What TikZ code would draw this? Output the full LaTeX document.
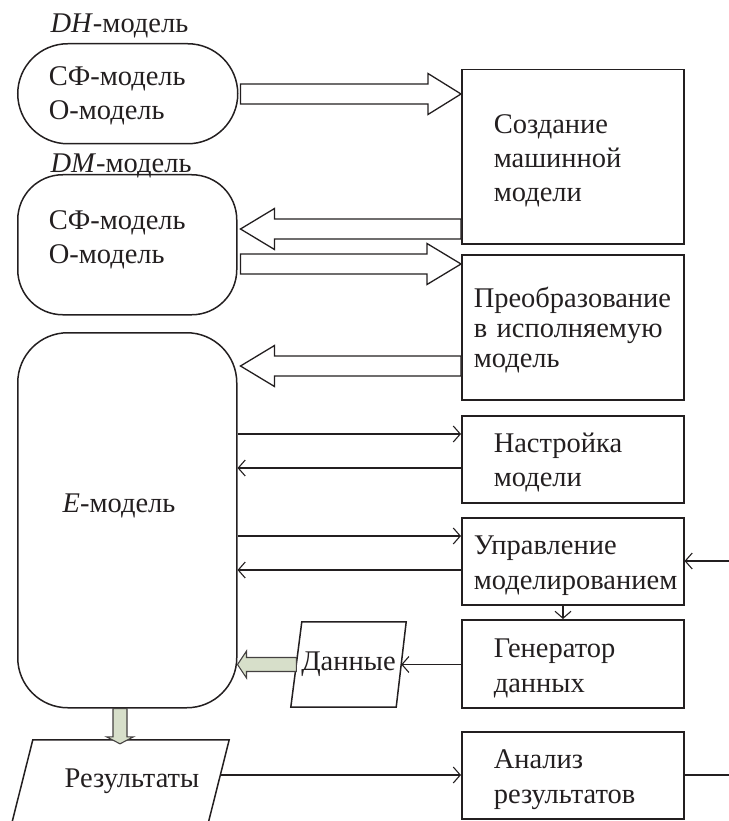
\documentclass[tikz,border=0pt]{standalone}
\usepackage{fontspec}
\setmainfont{Liberation Serif}
\usetikzlibrary{arrows.meta,calc}
\definecolor{ink}{HTML}{231F20}
\definecolor{gfill}{HTML}{D7DFCA}
\newcommand\blockarr[6][]{%
  \path ($(#3)!#6!(#2)$) coordinate (ba-hb);
  \draw[#1] ($(#2)!#4!90:(#3)$) -- ($(ba-hb)!#4!90:(#3)$) -- ($(ba-hb)!#5!90:(#3)$)
    -- (#3) -- ($(ba-hb)!#5!-90:(#3)$) -- ($(ba-hb)!#4!-90:(#3)$) -- ($(#2)!#4!-90:(#3)$) -- cycle;
}
\begin{document}
\begin{tikzpicture}[x=1pt,y=-1pt,
  every node/.style={text=ink},
  txt/.style={font=\fontsize{28.5}{34}\selectfont},
  box/.style={txt, draw=ink, line width=1.5pt, rectangle, anchor=north west,
     align=left, minimum width=222pt, inner ysep=0pt,
     execute at begin node={\rule{0pt}{27pt}}},
  rbox/.style={txt, draw=ink, line width=1.5pt, rectangle, anchor=north west,
     align=left, inner xsep=31pt, inner ysep=0pt},
  hollow/.style={draw=ink, line width=1.3pt, fill=white, line join=miter},
  green/.style={draw=ink!85, line width=1.1pt, fill=gfill, line join=miter},
  thinline/.style={draw=ink, line width=1.1pt},
  thinarr/.style={thinline, -{Straight Barb[length=7pt,width=16pt]}},
  paratext/.style={txt, rectangle, inner sep=0pt},
  paraline/.style={draw=ink, line width=1.5pt, line join=miter}
]
\useasboundingbox (0,0) rectangle (728,821);

% left side models
\node[txt, anchor=base west] (DHlab) at (47,33) {\textit{DH}-модель};
\node[rbox, rounded corners=50pt, minimum width=220pt, minimum height=100pt, text width=158pt,
  execute at begin node={\rule{0pt}{24pt}}] (DH) at (17,43)
  {СФ-модель\\О-модель};
\node[txt, anchor=base west] (DMlab) at (47,172) {\textit{DM}-модель};
\node[rbox, rounded corners=45pt, minimum width=219pt, minimum height=140pt, text width=157pt,
  execute at end node={\rule[-16pt]{0pt}{0pt}}] (DM) at (17,174)
  {СФ-модель\\О-модель};
\node[draw=ink, line width=1.5pt, rectangle, rounded corners=50pt, anchor=north west,
  minimum width=219pt, minimum height=375pt] (E) at (17,332) {};
\node[txt, anchor=base] (Etext) at (119,512) {\textit{E}-модель};

% right side boxes
\node[box, inner xsep=32pt, text width=158pt, minimum height=174pt] (Sozd) at (461,69)
  {Создание\\машинной\\модели};
\node[box, inner xsep=12pt, text width=198pt, minimum height=145pt,
  font=\fontsize{28.5}{30}\selectfont] (Preob) at (461,254)
  {Преобразование\\в исполняемую\\модель};
\node[box, inner xsep=32pt, text width=158pt, minimum height=87pt] (Nast) at (461,415)
  {Настройка\\модели};
\node[box, inner xsep=12pt, text width=198pt, minimum height=87pt,
  font=\fontsize{28.5}{35}\selectfont] (Upr) at (461,517)
  {Управление\\моделированием};
\node[box, inner xsep=32pt, text width=158pt, minimum height=88pt,
  font=\fontsize{28.5}{35}\selectfont] (Gen) at (461,619)
  {Генератор\\данных};
\node[box, inner xsep=32pt, text width=158pt, minimum height=87pt,
  font=\fontsize{28.5}{35}\selectfont] (Anal) at (461,731)
  {Анализ\\результатов};

% data parallelograms
\node[paratext, minimum width=115pt, minimum height=85pt] (Dan) at (348.5,664.5) {Данные};
\draw[paraline] ($(Dan.north west)+(11,0)$) -- (Dan.north east) -- ($(Dan.south east)+(-10,0)$)
  -- (Dan.south west) -- cycle;
\coordinate (DanR) at ($(Dan.east)+(-5,0)$);
\coordinate (DanL) at ($(Dan.west)+(5.5,0)$);
\node[paratext, minimum width=217pt, minimum height=83pt] (Res) at (120.5,781.5)
  {\hspace*{23pt}Результаты};
\draw[paraline] ($(Res.north west)+(21,0)$) -- (Res.north east) -- ($(Res.south east)+(-21,0)$)
  -- (Res.south west) -- cycle;
\coordinate (ResR) at (220,775);

% hollow block arrows
\coordinate (a1t) at ($(DH.east|-0,94)+(2,0)$);
\coordinate (a1h) at (Sozd.west|-0,94);
\blockarr[hollow]{a1t}{a1h}{10pt}{20.5pt}{33pt}
\coordinate (a2t) at (Sozd.west|-0,229);
\coordinate (a2h) at ($(DM.east|-0,229)+(3,0)$);
\blockarr[hollow]{a2t}{a2h}{10pt}{20.5pt}{34pt}
\coordinate (a3t) at ($(DM.east|-0,264)+(3,0)$);
\coordinate (a3h) at (Preob.west|-0,264);
\blockarr[hollow]{a3t}{a3h}{10pt}{20.5pt}{34pt}
\coordinate (a4t) at (Preob.west|-0,366);
\coordinate (a4h) at ($(E.east|-0,366)+(3,0)$);
\blockarr[hollow]{a4t}{a4h}{10pt}{20.5pt}{34pt}

% green block arrows
\coordinate (g1h) at (E.east|-DanL);
\blockarr[green]{DanL}{g1h}{7pt}{13.5pt}{9pt}
\coordinate (g2t) at (E.south -| 120,0);
\coordinate (g2h) at ($(Res.north -| 120,0)+(0,4)$);
\blockarr[green]{g2t}{g2h}{7pt}{13.5pt}{7pt}

% thin connectors
\draw[thinarr] (E.east|-0,434) -- (Nast.west|-0,434);
\draw[thinarr] (Nast.west|-0,468) -- (E.east|-0,468);
\draw[thinarr] (E.east|-0,536) -- (Upr.west|-0,536);
\draw[thinarr] (Upr.west|-0,570) -- (E.east|-0,570);
\coordinate (extIn) at (730,561);
\coordinate (extOut) at (730,775);
\draw[thinarr] (extIn) -- (Upr.east|-extIn);
\draw[thinline] (Anal.east|-extOut) -- (extOut);
\draw[thinarr] (Upr.south -| 563,0) -- (Gen.north -| 563,0);
\draw[thinarr] (Gen.west|-DanR) -- (DanR);
\draw[thinarr] (ResR) -- (Anal.west|-ResR);
\end{tikzpicture}
\end{document}
